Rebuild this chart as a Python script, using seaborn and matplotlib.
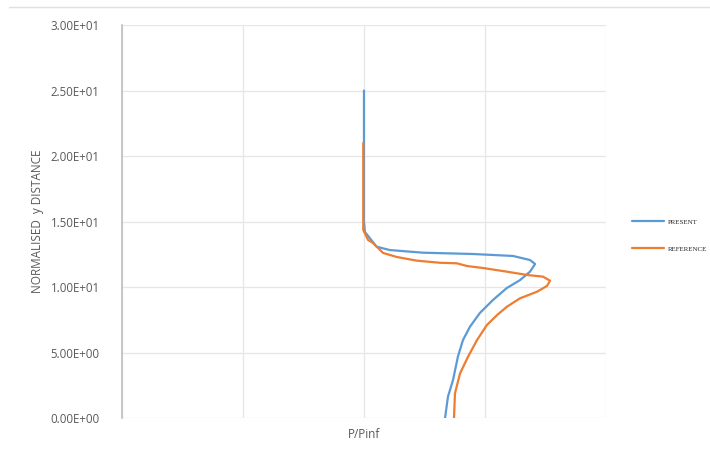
import pandas as pd
import matplotlib.pyplot as plt
import seaborn as sns
from matplotlib.lines import Line2D

# PRESENT profile (P/Pinf vs normalised y distance)
present_x = [1.0, 1.0, 1.0, 1.004, 1.052, 1.107, 1.244, 1.450, 1.616, 1.686, 1.707,
             1.686, 1.645, 1.590, 1.533, 1.479, 1.438, 1.409, 1.388, 1.368, 1.347, 1.335]
present_y = [25.0, 20.0, 15.0, 14.2, 13.08, 12.82, 12.62, 12.52, 12.37, 12.06, 11.76,
             11.17, 10.53, 9.92, 9.01, 8.02, 6.97, 5.95, 4.68, 2.90, 1.63, 0.0]

# REFERENCE profile
reference_x = [0.997, 0.997, 0.997, 1.017, 1.037, 1.079, 1.136, 1.219, 1.314, 1.384, 1.426,
               1.492, 1.591, 1.674, 1.740, 1.769, 1.756, 1.715, 1.645, 1.591, 1.550, 1.508,
               1.467, 1.430, 1.397, 1.376, 1.372]
reference_y = [21.0, 16.64, 14.35, 13.59, 13.36, 12.60, 12.29, 12.01, 11.85, 11.81, 11.60,
               11.45, 11.17, 10.92, 10.79, 10.48, 10.08, 9.64, 9.14, 8.50, 7.86, 7.10,
               5.95, 4.68, 3.41, 1.89, 0.0]

y_ticks = [0, 5, 10, 15, 20, 25, 30]
y_tick_labels = ["0.00E+00", "5.00E+00", "1.00E+01", "1.50E+01", "2.00E+01", "2.50E+01", "3.00E+01"]

df = pd.concat([
    pd.DataFrame({"P/Pinf": present_x, "y": present_y, "series": "PRESENT"}),
    pd.DataFrame({"P/Pinf": reference_x, "y": reference_y, "series": "REFERENCE"}),
], ignore_index=True)

sns.set_style("white")
plt.rcParams["font.family"] = ["Open Sans", "DejaVu Sans"]

fig = plt.figure(figsize=(7.1, 4.57), dpi=100)
ax = fig.add_axes([0.1718, 0.0853, 0.6817, 0.86])

palette = {"PRESENT": "#5B9BD5", "REFERENCE": "#ED7D31"}
sns.lineplot(data=df, x="P/Pinf", y="y", hue="series", palette=palette,
             sort=False, estimator=None, orient="y", linewidth=1.6, ax=ax, legend=False)

ax.set_xlim(0, 2)
ax.set_ylim(0, 30)
ax.set_xticks([0, 0.5, 1.0, 1.5, 2.0])
ax.set_xticklabels([])
ax.tick_params(axis="x", length=0)
ax.set_yticks(y_ticks)
ax.set_yticklabels(y_tick_labels, fontsize=8.3, color="#595959")
ax.tick_params(axis="y", length=6, color="#d9d9d9", pad=10)
ax.grid(True, color="#e6e6e6", linewidth=0.9)
ax.set_axisbelow(True)
for side in ["top", "right", "bottom"]:
    ax.spines[side].set_visible(False)
ax.spines["left"].set_color("#bfbfbf")
ax.spines["left"].set_linewidth(1.2)

ax.set_xlabel("P/Pinf", fontsize=8.5, color="#595959", labelpad=4)
ax.set_ylabel("NORMALISED  y DISTANCE", fontsize=8.5, color="#595959", labelpad=5)

# legend outside on the right
handles = [Line2D([], [], color=palette[k], linewidth=1.6) for k in ["PRESENT", "REFERENCE"]]
ax.legend(handles, ["PRESENT", "REFERENCE"], loc="center left", bbox_to_anchor=(1.04, 0.465),
          frameon=False, handlelength=4.6, handletextpad=0.6, labelspacing=3.0,
          prop={"family": "Liberation Serif", "size": 5.0})

# thin border line across the top of the figure
fig.add_artist(Line2D([0.012, 1.0], [0.985, 0.985], color="#e0e0e0", linewidth=1))

fig.savefig("out.png", dpi=100)
